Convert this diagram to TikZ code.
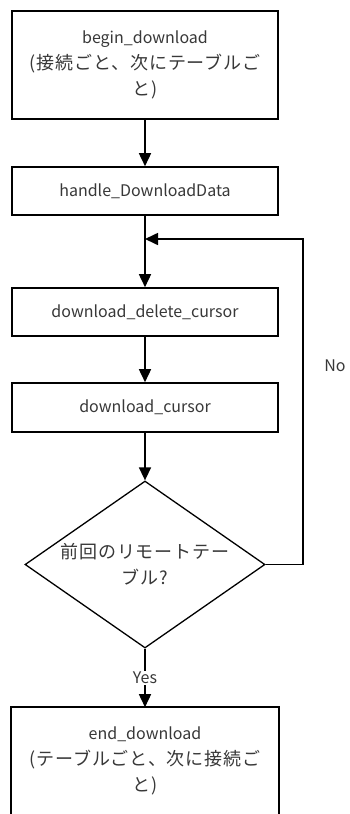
\documentclass[tikz,border=0pt]{standalone}
\usepackage{fontspec}
\setmainfont{Noto Sans CJK JP}
\newfontfamily\jpwide[LetterSpace=5]{Noto Sans CJK JP}
\usetikzlibrary{shapes.geometric,arrows.meta}
\definecolor{txt}{HTML}{383838}
% Japanese runs are set wider than the Latin ones
\newcommand{\jw}[1]{{\jpwide\fontsize{18}{26}\selectfont #1}}
\tikzset{
  flow/.style={draw=black, line width=1.6pt, minimum width=266pt, text=txt,
    align=center, inner sep=0pt, font=\fontsize{16}{26}\selectfont},
  link/.style={draw=black, line width=1.6pt,
    -{Triangle[width=12pt,length=13pt]}},
  tag/.style={text=txt, font=\fontsize{16}{18}\selectfont, inner sep=1pt},
}
\begin{document}
\begin{tikzpicture}[x=1pt,y=-1pt]
  \useasboundingbox (0,0) rectangle (350,814);
  \clip (0,0) rectangle (350,814);
  \fill[white] (0,0) rectangle (350,814);

  \node[flow, minimum height=108pt] (begin) at (145,65)
    {begin\_download\\\jw{(接続ごと、次にテーブルご}\\\jw{と)}};
  \node[flow, minimum height=48pt] (handle) at (145,191) {handle\_DownloadData};
  \node[flow, minimum height=48pt] (del) at (145,312) {download\_delete\_cursor};
  \node[flow, minimum height=49pt] (cur) at (145,407.5) {download\_cursor};
  \node[diamond, draw=black, line width=1.3pt, minimum width=240pt,
    minimum height=167pt, inner sep=0pt] (dec) at (145,564.5) {};
  \node[tag, align=center, font=\fontsize{16}{26}\selectfont] (q) at (dec.center)
    {\jw{前回のリモートテー}\\\jw{ブル?}};
  % lower box runs past the bottom edge, so its frame is drawn separately
  \node[flow, draw=none, minimum height=106pt] (end) at (145,761)
    {end\_download\\\jw{(テーブルごと、次に接続ご}\\\jw{と)}};
  \draw[line width=1.6pt] (end.north west) rectangle ([yshift=-30pt]end.south east);

  \coordinate (join) at (145,239);
  \coordinate (turn) at (303,564.5);

  \draw[link] (begin) -- (handle);
  \draw[line width=1.6pt] (handle) -- (join);
  \draw[link] (join) -- (del);
  \draw[link] (del) -- (cur);
  \draw[link] (cur) -- (dec.north);
  \draw[link] (dec.south) -- node[tag, fill=white] {Yes} (end);
  \draw[link] (dec.east) -- (turn) -- (turn |- join) -- (join);
  \node[tag] (no) at (335,366) {No};
\end{tikzpicture}
\end{document}
